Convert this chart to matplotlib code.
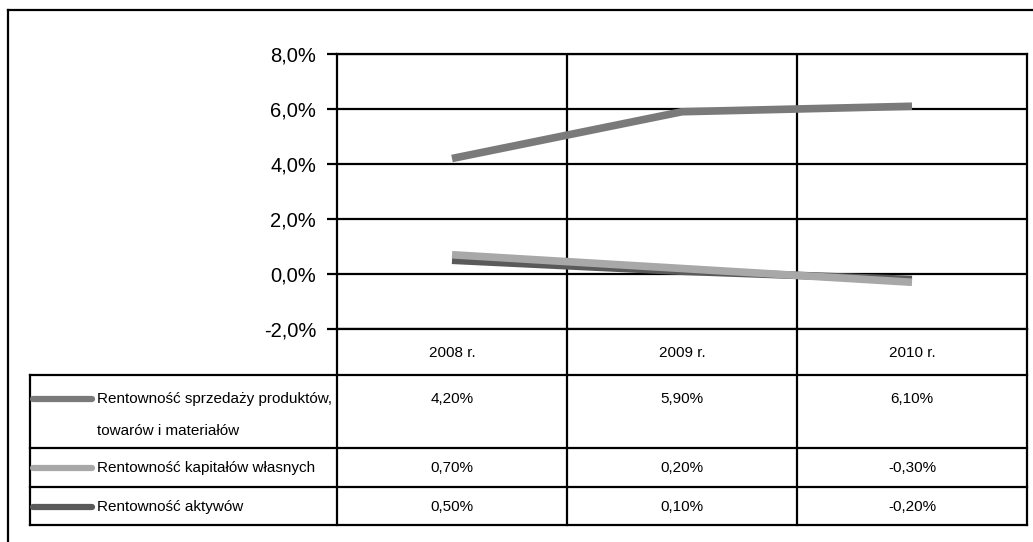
"""Rentowność 2008-2010: line chart with a data table underneath."""

import matplotlib
matplotlib.use("Agg")
import matplotlib.pyplot as plt
from matplotlib.font_manager import fontManager
from matplotlib.lines import Line2D

# --- data -------------------------------------------------------------------
years = ["2008 r.", "2009 r.", "2010 r."]
series_names = [
    "Rentowność sprzedaży produktów,\ntowarów i materiałów",
    "Rentowność kapitałów własnych",
    "Rentowność aktywów",
]
sprzedaz = [4.2, 5.9, 6.1]
kapital = [0.7, 0.2, -0.3]
aktywa = [0.5, 0.1, -0.2]
y_ticks = [-2, 0, 2, 4, 6, 8]

series_values = [sprzedaz, kapital, aktywa]
series_colors = ["#7a7a7a", "#a8a8a8", "#5a5a5a"]

# --- fonts --------------------------------------------------------------------
names = {f.name for f in fontManager.ttflist}
font = "Liberation Sans Narrow" if "Liberation Sans Narrow" in names else "Liberation Sans"
plt.rcParams["font.family"] = [font, "DejaVu Sans"]

W, H = 1033, 542
fig = plt.figure(figsize=(W / 100, H / 100), dpi=100)


def fx(px):
    return px / W


def fy(py):
    return 1 - py / H


LW = 1.6

# outer frame (left and top only visible)
fig.add_artist(Line2D([fx(8), fx(8)], [fy(10), fy(H + 5)], color="black", lw=LW))
fig.add_artist(Line2D([fx(8), fx(W + 5)], [fy(10), fy(10)], color="black", lw=LW))

# --- chart ------------------------------------------------------------------
PL, PR, PT, PB = 337, 1027, 54, 329
ax = fig.add_axes([fx(PL), fy(PB), fx(PR - PL), fy(PT) - fy(PB)])
x = list(range(len(years)))
ax.set_xlim(-0.5, len(years) - 0.5)
ax.set_ylim(y_ticks[0], y_ticks[-1])

for t in y_ticks:
    ax.axhline(t, color="black", lw=LW, zorder=1)
for i in range(1, len(years)):
    ax.axvline(i - 0.5, color="black", lw=LW, zorder=1)

# draw order: sales, assets, then equity on top
for vals, col in zip([sprzedaz, aktywa, kapital], [series_colors[0], series_colors[2], series_colors[1]]):
    ax.plot(x, vals, color=col, lw=5.5, solid_capstyle="butt", zorder=3)

ax.set_yticks(y_ticks)
ax.set_yticklabels([f"{t:.1f}%".replace(".", ",") for t in y_ticks], fontsize=14.5)
ax.set_xticks([])
ax.tick_params(axis="y", length=7, width=LW, pad=8)
for s in ax.spines.values():
    s.set_linewidth(LW)

# --- data table ---------------------------------------------------------------
TL, TB = 30, 525
row_edges = [329, 375, 448, 487, 525]
col_w = (PR - PL) / len(years)
legend_left = -0.5 - (PL - TL) / col_w

tax = fig.add_axes([fx(TL), fy(TB), fx(PR - TL), fy(PB) - fy(TB)])
tax.set_xlim(legend_left, len(years) - 0.5)
tax.set_ylim(row_edges[-1], row_edges[0])
tax.axis("off")

for i in range(len(years) + 1):
    tax.plot([i - 0.5, i - 0.5], [row_edges[0], row_edges[-1]], color="black", lw=LW,
             solid_capstyle="projecting", clip_on=False)
tax.plot([legend_left, legend_left], [row_edges[1], row_edges[-1]], color="black", lw=LW,
         solid_capstyle="projecting", clip_on=False)
for ry in row_edges[1:]:
    tax.plot([legend_left, len(years) - 0.5], [ry, ry], color="black", lw=LW,
             solid_capstyle="projecting", clip_on=False)

for i, yr in enumerate(years):
    tax.text(i, (row_edges[0] + row_edges[1]) / 2 + 1, yr, ha="center", va="center", fontsize=11)

text_y = [399, 468, 507]
for r, (name, vals, col) in enumerate(zip(series_names, series_values, series_colors)):
    ty = text_y[r]
    tax.plot([legend_left + 0.015, legend_left + 0.27], [ty, ty], color=col, lw=4.5,
             solid_capstyle="round", clip_on=False)
    for k, line in enumerate(name.split("\n")):
        tax.text(legend_left + 0.29, ty + 32 * k, line, ha="left", va="center", fontsize=11)
    for i, v in enumerate(vals):
        tax.text(i, ty, f"{v:.2f}%".replace(".", ","), ha="center", va="center", fontsize=11)

fig.savefig("out.png", dpi=100)
